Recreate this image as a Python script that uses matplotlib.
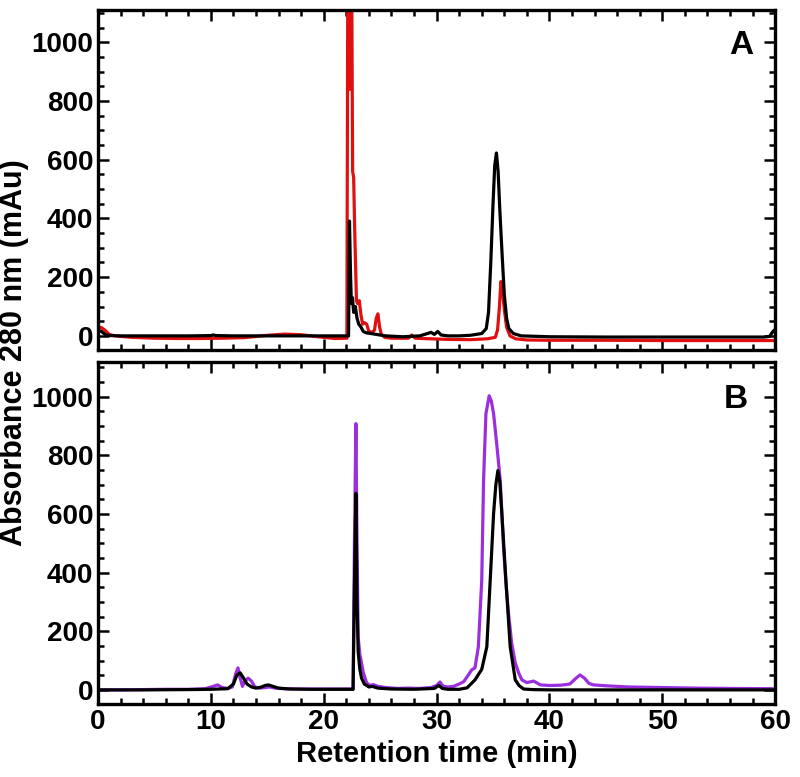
import matplotlib
matplotlib.use("Agg")
from matplotlib import pyplot as plt
from matplotlib.ticker import MultipleLocator

# ---- panel A (red + black) ----
red_a_t = [0, 0.3, 0.6, 1.0, 1.5, 3, 5, 7, 9, 11, 13, 15, 16.5, 18, 19.5, 21, 22.05,
           22.13, 22.25, 22.3, 22.36, 22.48, 22.56, 22.65, 22.75, 22.9, 23.0, 23.15,
           23.3, 23.45, 23.6, 23.8, 24.0, 24.3, 24.5, 24.65, 24.8, 24.95, 25.1, 25.4,
           26, 27.5, 27.8, 28.1, 29.5, 31, 33, 34.5, 35.2, 35.4, 35.55, 35.7, 35.85,
           36.0, 36.2, 36.5, 37, 38, 40, 45, 50, 55, 60]
red_a_v = [30, 28, 20, 5, 0, -5, -8, -9, -9, -8, -6, 2, 6, 4, -3, -9, -8,
           1200, 1200, 840, 1200, 1200, 560, 540, 350, 120, 110, 120,
           70, 40, 45, 40, 15, 12, 20, 60, 75, 30, 5, -5,
           -8, -8, 3, -8, -10, -12, -13, -10, -5, 20, 90, 185, 150,
           90, 30, 0, -10, -14, -15, -15, -16, -16, -16]

blk_a_t = [0, 0.3, 0.7, 1.2, 2, 4, 6, 8, 10, 10.2, 10.5, 12, 14, 16, 18, 20, 22.1,
           22.2, 22.28, 22.38, 22.45, 22.55, 22.65, 22.8, 22.95, 23.1, 23.3, 23.5,
           23.8, 24.2, 24.8, 25.5, 27, 28.5, 29.2, 29.5, 29.8, 30.1, 30.4, 31, 32, 33,
           34.0, 34.4, 34.6, 34.8, 35.0, 35.15, 35.3, 35.45, 35.6, 35.8, 36.0, 36.2,
           36.4, 36.8, 37.5, 40, 45, 50, 55, 59.0, 59.5, 59.8, 60]
blk_a_v = [20, 15, 3, 1, 0, 0, 0, 0, 1, 3, 1, 0, 0, 0, 0, 0, 0,
           0, 391, 200, 110, 130, 80, 100, 60, 40, 30, 15,
           10, 8, 4, 0, -3, 0, 8, 12, 5, 15, 3, 0, 0, 2,
           8, 25, 80, 250, 450, 580, 623, 560, 430, 280, 140, 60,
           25, 8, 0, -3, -4, -4, -4, -4, -2, 15, 22]

# ---- panel B (purple + black) ----
pur_b_t = [0, 2, 4, 6, 8, 9.5, 10.2, 10.6, 11.0, 11.5, 11.9, 12.2, 12.4, 12.6, 12.8,
           13.0, 13.3, 13.6, 13.9, 14.3, 14.8, 15.2, 15.7, 16.5, 18, 20, 22.0, 22.6,
           22.72, 22.85, 22.95, 23.05, 23.2, 23.35, 23.5, 23.8, 24.1, 24.4, 24.8,
           25.5, 26.5, 27.5, 28.5, 29.5, 30.0, 30.3, 30.6, 31.0, 31.5, 32.0, 32.4,
           32.8, 33.1, 33.4, 33.7, 34.0, 34.16, 34.37, 34.66, 34.85, 35.05, 35.35,
           35.64, 35.93, 36.15, 36.37, 36.65, 36.97, 37.3, 37.56, 38.0, 38.6, 39.2,
           40.0, 41.0, 41.8, 42.3, 42.7, 43.1, 43.5, 43.9, 45, 47, 50, 53, 56, 60]
pur_b_v = [0, 0, 1, 2, 2, 4, 12, 17, 8, 5, 10, 55, 75, 40, 12,
           30, 40, 30, 10, 6, 8, 10, 6, 4, 3, 3, 3, 3,
           500, 908, 500, 180, 120, 92, 60, 24, 15, 18, 12,
           8, 5, 6, 5, 8, 15, 27, 12, 10, 12, 20, 28,
           50, 68, 75, 147, 374, 714, 942, 1003, 985, 942, 830,
           714, 486, 360, 262, 160, 92, 55, 34, 25, 30, 17,
           15, 16, 20, 38, 51, 40, 22, 17, 14, 10, 8, 6, 5, 4]

blk_b_t = [0, 4, 8, 10, 11.5, 12.0, 12.3, 12.6, 12.9, 13.2, 13.6, 14.0, 14.5, 14.8,
           15.1, 15.5, 16.0, 17, 19, 21, 22.6, 22.72, 22.85, 22.95, 23.05, 23.2,
           23.35, 23.6, 24.0, 24.3, 24.8, 26, 28, 29.8, 30.2, 30.5, 31, 32, 32.7,
           33.4, 34.0, 34.45, 34.75, 35.05, 35.25, 35.43, 35.6, 35.78, 36.14, 36.52,
           36.97, 37.3, 37.7, 38.5, 40, 45, 50, 55, 60]
blk_b_v = [0, 0, 1, 2, 4, 20, 50, 58, 40, 20, 10, 6, 10, 15,
           17, 12, 6, 3, 2, 2, 2, 350, 670, 300, 130, 70,
           40, 20, 10, 12, 6, 3, 2, 5, 15, 5, 2, 2, 7,
           34, 70, 147, 374, 602, 700, 748, 710, 602, 374, 147,
           34, 15, 3, 1, 0, 0, 0, 0, 0]

RED = "#e01010"
PURPLE = "#9b2fe0"
LW = 2.3

plt.rcParams["font.family"] = ["Liberation Sans", "DejaVu Sans"]
plt.rcParams["font.weight"] = "bold"

fig = plt.figure(figsize=(8, 7.77), dpi=100)
ax_a = fig.add_axes([0.1225, 0.5496, 0.8465, 0.4375])
ax_b = fig.add_axes([0.1225, 0.094, 0.8465, 0.440])

ax_a.plot(red_a_t, red_a_v, color=RED, lw=LW)
ax_a.plot(blk_a_t, blk_a_v, color="black", lw=LW)
ax_b.plot(pur_b_t, pur_b_v, color=PURPLE, lw=LW)
ax_b.plot(blk_b_t, blk_b_v, color="black", lw=LW)

ax_a.set_ylim(-48, 1110)
ax_b.set_ylim(-48, 1118)

for ax in (ax_a, ax_b):
    ax.set_xlim(0, 60)
    ax.xaxis.set_major_locator(MultipleLocator(10))
    ax.xaxis.set_minor_locator(MultipleLocator(2))
    ax.yaxis.set_major_locator(MultipleLocator(200))
    ax.yaxis.set_minor_locator(MultipleLocator(50))
    ax.tick_params(which="both", direction="in", top=True, right=True, width=1.8,
                   labelsize=20)
    ax.tick_params(which="major", length=8)
    ax.tick_params(which="minor", length=4)
    for s in ax.spines.values():
        s.set_linewidth(2.4)

ax_a.tick_params(labelbottom=False)
ax_b.set_xlabel("Retention time (min)", fontsize=21, fontweight="bold", labelpad=4)
fig.text(0.018, 0.546, "Absorbance 280 nm (mAu)", rotation=90, fontsize=22,
         fontweight="bold", ha="center", va="center")

ax_a.text(0.967, 0.897, "A", transform=ax_a.transAxes, fontsize=24, fontweight="bold",
          ha="right", va="center")
ax_b.text(0.960, 0.892, "B", transform=ax_b.transAxes, fontsize=24, fontweight="bold",
          ha="right", va="center")

fig.savefig("out.png", dpi=100)
